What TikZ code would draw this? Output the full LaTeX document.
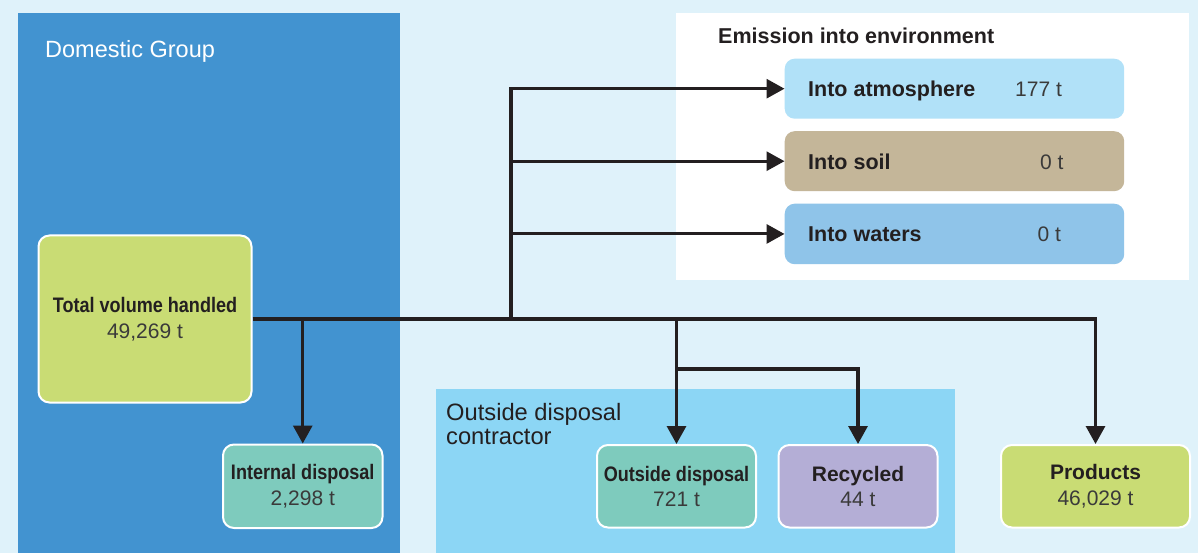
\documentclass[tikz,border=0pt]{standalone}
\usepackage{fontspec}
\setmainfont{Liberation Sans}
\usepackage{graphicx}
\usetikzlibrary{arrows.meta}

\definecolor{bgpale}{HTML}{DFF2FA}
\definecolor{domblue}{HTML}{4293D0}
\definecolor{contrblue}{HTML}{8CD6F5}
\definecolor{atmo}{HTML}{B1E1F8}
\definecolor{soilc}{HTML}{C4B699}
\definecolor{water}{HTML}{8FC4E9}
\definecolor{leaf}{HTML}{C9DC74}
\definecolor{teal}{HTML}{7ECBBD}
\definecolor{lilac}{HTML}{B4AED6}
\definecolor{ink}{HTML}{231F20}
\definecolor{numgray}{HTML}{3A3A3A}

% box captions: bold label over a lighter amount
\newcommand\lab[1]{{\bfseries #1}}
\newcommand\amount[1]{{\color{numgray}#1}}
\newcommand\squeeze[1]{\scalebox{0.86}[1]{#1}}

\begin{document}
\begin{tikzpicture}[x=1pt,y=-1pt,
  panel/.style={anchor=north west, inner sep=0pt, outer sep=0pt, draw=none},
  flowbox/.style={anchor=north west, rounded corners=11pt, draw=white,
    line width=2pt, inner sep=0pt, align=center, text=ink,
    font=\fontsize{21}{25.5}\selectfont},
  ebox/.style={anchor=north west, rounded corners=10pt, inner sep=0pt,
    minimum width=339.5pt},
  elabel/.style={anchor=base west, inner sep=0pt, text=ink,
    font=\fontsize{21.5}{25}\selectfont\bfseries},
  enum/.style={anchor=base west, inner sep=0pt, text=numgray,
    font=\fontsize{21}{25}\selectfont},
  heading/.style={anchor=base west, inner sep=0pt, align=left},
  conn/.style={draw=ink, line width=3.1pt, line join=miter},
  tip/.style={-{Triangle[length=18pt,width=19pt]}}
]
\useasboundingbox (0,0) rectangle (1198,553);
\fill[bgpale] (0,0) rectangle (1198,553);

% group panels
\node[panel, fill=domblue, minimum width=382pt, minimum height=540pt] (dom) at (18,13) {};
\node[panel, fill=white, minimum width=512.5pt, minimum height=267pt] (envpanel) at (676,13) {};
\node[panel, fill=contrblue, minimum width=519pt, minimum height=164pt] (contr) at (436,389) {};

\node[heading, text=white, font=\fontsize{23.5}{26}\selectfont] (domlab) at (45,58) {Domestic Group};
\node[heading, text=ink, font=\fontsize{21.5}{25}\selectfont\bfseries] (envlab) at (718,43.5) {Emission into environment};
\node[heading, text=ink, font=\fontsize{23.7}{24}\selectfont] (contrlab) at (446,444) {Outside disposal\\contractor};

% emission targets
\node[ebox, fill=atmo, minimum height=60pt] (atm) at (784.5,58.5) {};
\node[ebox, fill=soilc, minimum height=60pt] (soil) at (784.5,131) {};
\node[ebox, fill=water, minimum height=60.5pt] (wat) at (784.5,203.5) {};
\node[elabel] (atmlab) at (808,97) {Into atmosphere};
\node[enum] (atmnum) at (1015,97) {177 t};
\node[elabel] (soillab) at (808,169.5) {Into soil};
\node[enum] (soilnum) at (1040,169.5) {0 t};
\node[elabel] (watlab) at (808,242) {Into waters};
\node[enum] (watnum) at (1037.5,242) {0 t};

% flow boxes
\node[flowbox, fill=leaf, minimum width=213pt, minimum height=167pt] (total) at (37.5,234.5)
  {\lab{\squeeze{Total volume handled}}\\\amount{49,269 t}};
\node[flowbox, fill=teal, minimum width=159.5pt, minimum height=83.5pt] (internal) at (222,443.5)
  {\lab{\squeeze{Internal disposal}}\\\amount{2,298 t}};
\node[flowbox, fill=teal, minimum width=159pt, minimum height=82.5pt] (outd) at (596,444)
  {\lab{\squeeze{Outside disposal}}\\\amount{721 t}};
\node[flowbox, fill=lilac, minimum width=159pt, minimum height=82.5pt] (recy) at (777.5,444)
  {\lab{Recycled}\\\amount{44 t}};
\node[flowbox, fill=leaf, minimum width=189pt, minimum height=82.5pt] (prod) at (1000,444)
  {\lab{Products}\\\amount{46,029 t}};

% junction points of the flow lines
\coordinate (etrunk) at (511,318);
\coordinate (split) at (676,369);

% connectors
\draw[conn, tip] (total.east) -- (prod.north |- total.east) -- (prod.north);
\draw[conn, tip] (internal.north |- total.east) -- (internal.north);
\draw[conn, tip] (outd.north |- total.east) -- (outd.north);
\draw[conn, tip] (split) -| (recy.north);
\draw[conn, tip] (etrunk) |- (atm.west);
\draw[conn, tip] (etrunk |- soil.west) -- (soil.west);
\draw[conn, tip] (etrunk |- wat.west) -- (wat.west);
\end{tikzpicture}
\end{document}
